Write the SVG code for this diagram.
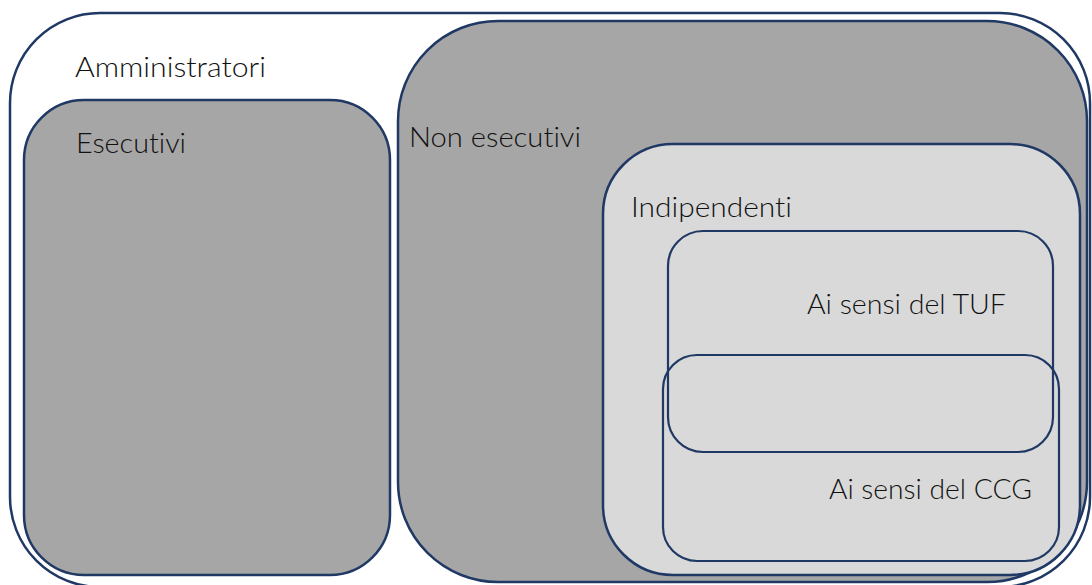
<svg xmlns="http://www.w3.org/2000/svg" width="1092" height="585" viewBox="0 0 1092 585">
  <style>
    .box { stroke: #1F3864; stroke-width: 2.5; }
    .inner { stroke: #1F3864; stroke-width: 2.2; fill: none; }
    .dark { fill: #A6A6A6; }
    .light { fill: #D9D9D9; }
    .lbl { font-family: Lato, "Open Sans", "Liberation Sans", sans-serif; font-weight: 300; font-size: 28px; fill: #111111; font-variant-ligatures: none; font-feature-settings: "liga" 0, "clig" 0; }
  </style>
  <rect width="1092" height="585" fill="#FFFFFF"/>

  <g id="amministratori">
    <rect class="box" x="10" y="13" width="1080" height="574" rx="90" ry="90" fill="#FFFFFF"/>
    <text class="lbl" x="75" y="77" textLength="191" lengthAdjust="spacingAndGlyphs">Amministratori</text>
  </g>

  <g id="esecutivi">
    <rect class="box dark" x="24" y="100" width="366" height="475" rx="60" ry="60"/>
    <text class="lbl" x="76" y="153" textLength="110" lengthAdjust="spacingAndGlyphs">Esecutivi</text>
  </g>

  <g id="non-esecutivi">
    <rect class="box dark" x="398" y="21" width="689" height="561" rx="100" ry="100"/>
    <text class="lbl" x="409" y="147" textLength="172" lengthAdjust="spacingAndGlyphs">Non esecutivi</text>
  </g>

  <g id="indipendenti">
    <rect class="box light" x="603" y="144" width="477" height="431" rx="70" ry="70"/>
    <text class="lbl" x="631" y="217" textLength="161" lengthAdjust="spacingAndGlyphs">Indipendenti</text>
  </g>

  <g id="tuf">
    <rect class="inner" x="668" y="231" width="385" height="221" rx="35" ry="35"/>
    <text class="lbl" x="807" y="314" textLength="199" lengthAdjust="spacingAndGlyphs">Ai sensi del TUF</text>
  </g>

  <g id="ccg">
    <rect class="inner" x="663" y="355" width="396" height="206" rx="34" ry="34"/>
    <text class="lbl" x="829" y="499" textLength="203" lengthAdjust="spacingAndGlyphs">Ai sensi del CCG</text>
  </g>

  <g id="connectors"/>
</svg>
